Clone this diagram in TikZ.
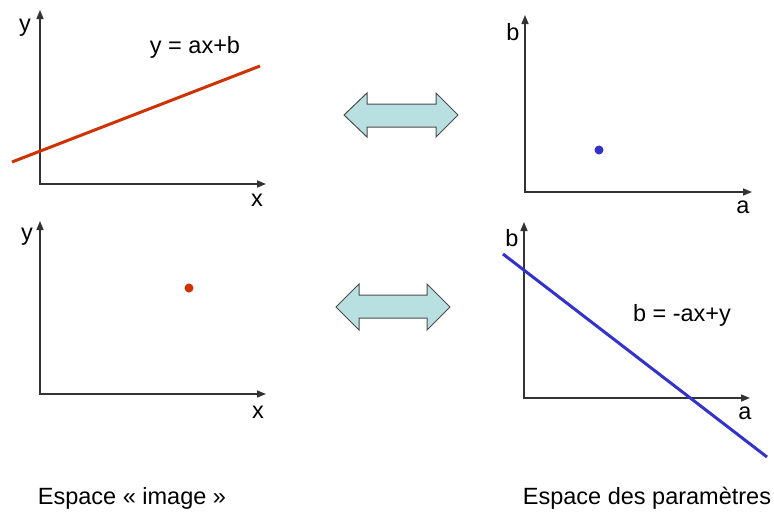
\documentclass[tikz,border=0pt]{standalone}
\usepackage{fontspec}
\setmainfont{Liberation Sans}
\usetikzlibrary{arrows.meta}
\definecolor{arrowfill}{RGB}{185,224,225}
\definecolor{linered}{RGB}{204,51,0}
\definecolor{lineblue}{RGB}{51,51,204}
\begin{document}
\begin{tikzpicture}[x=1pt,y=-1pt,
  axis/.style={draw=black!80, line width=1.5pt, {Triangle[length=9pt,width=7pt]}-{Triangle[length=9pt,width=7pt]}},
  lbl/.style={font=\fontsize{23.5}{28}\selectfont, inner sep=0pt},
  dbl/.style={draw=black!70, line width=1pt, fill=arrowfill, line join=miter},
  dot/.style={circle, inner sep=0pt, minimum size=9pt}]
\useasboundingbox (0,0) rectangle (774,517);
% panel 1
\coordinate (o1) at (40,184); \coordinate (y1) at (40,10); \coordinate (x1) at (266,184);
\draw[axis] (y1) -- (o1) -- (x1);
\node[lbl] (ly1) at (25,28) {y};
\node[lbl] (lx1) at (257,200) {x};
\coordinate (r1) at (12,162); \coordinate (r2) at (260,66);
\draw[linered, line width=3pt] (r1) -- (r2);
\node[lbl] (eq1) at (195,47) {y = ax+b};
% panel 2
\coordinate (o2) at (525,192); \coordinate (y2) at (525,15); \coordinate (x2) at (752,192);
\draw[axis] (y2) -- (o2) -- (x2);
\node[lbl] (ly2) at (513,32) {b};
\node[lbl] (lx2) at (743,207) {a};
\node[dot, fill=lineblue] (d2) at (599,150) {};
% panel 3
\coordinate (o3) at (40,394); \coordinate (y3) at (40,221); \coordinate (x3) at (266,394);
\draw[axis] (y3) -- (o3) -- (x3);
\node[lbl] (ly3) at (27,237) {y};
\node[lbl] (lx3) at (258,412) {x};
\node[dot, fill=linered] (d3) at (189,288) {};
% panel 4
\coordinate (o4) at (524,398); \coordinate (y4) at (524,222); \coordinate (x4) at (750,398);
\draw[axis] (y4) -- (o4) -- (x4);
\node[lbl] (ly4) at (512,238) {b};
\node[lbl] (lx4) at (745,413) {a};
\coordinate (b1) at (503,254); \coordinate (b2) at (767,457);
\draw[lineblue, line width=3pt] (b1) -- (b2);
\node[lbl] (eq2) at (682,315) {b = -ax+y};
% double arrows
\coordinate (da1) at (401,115);
\draw[dbl] (344,115) -- (367,93) -- (367,104) -- (436,104) -- (436,93) -- (458,115)
  -- (436,137) -- (436,127) -- (367,127) -- (367,137) -- cycle;
\coordinate (da2) at (393,307);
\draw[dbl] (336,307) -- (359,284) -- (359,295) -- (427,295) -- (427,284) -- (450,307)
  -- (427,330) -- (427,318) -- (359,318) -- (359,330) -- cycle;
% captions
\node[lbl] (c1) at (132,498) {Espace « image »};
\node[lbl] (c2) at (647,498) {Espace des paramètres};
\end{tikzpicture}
\end{document}
